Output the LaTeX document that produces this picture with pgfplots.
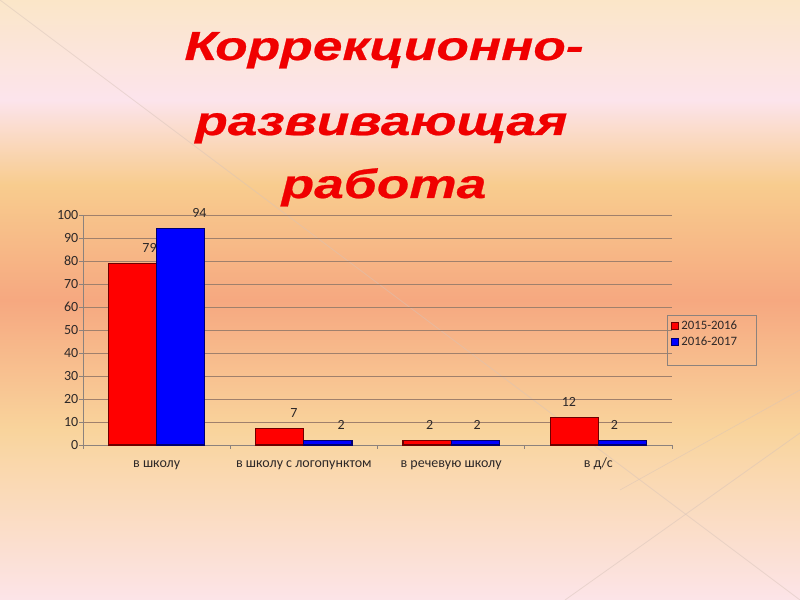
\documentclass[border=0pt]{standalone}
\usepackage{fontspec}
\setmainfont{Carlito}
\newfontfamily\titlefont[FakeStretch=1.31,FakeBold=0.6]{Liberation Sans}
\usepackage{pgfplots}
\usepackage{pgfplotstable}
\pgfplotsset{compat=1.18}

\definecolor{bg0}{HTML}{FBE6C8}
\definecolor{bg1}{HTML}{FCE4EC}
\definecolor{bg2}{HTML}{F8CC8E}
\definecolor{bg3}{HTML}{F6A880}
\definecolor{bg4}{HTML}{F9D49C}
\definecolor{bg5}{HTML}{FCE4E8}
\definecolor{titlered}{HTML}{F00000}
\definecolor{gridc}{RGB}{160,128,108}
\definecolor{axisgray}{RGB}{140,130,125}
\definecolor{darkred}{RGB}{110,0,0}
\definecolor{darkblue}{RGB}{0,0,110}
\definecolor{txt}{RGB}{45,40,40}
\definecolor{deco}{RGB}{215,195,185}

\pgfdeclareverticalshading{bgshade}{100bp}{color(0bp)=(bg5); color(25bp)=(bg5); color(39.17bp)=(bg4); color(50bp)=(bg3); color(59.58bp)=(bg2); color(66.67bp)=(bg1); color(75bp)=(bg0); color(100bp)=(bg0)}

\pgfplotstableread{
x y dx
0 79 12.75
1 7 10.5
2 2 2
3 12 -4
}\redtab
\pgfplotstableread{
x y dx
0 94 14
1 2 10
2 2 1.5
3 2 -6
}\bluetab

\begin{document}
\begin{tikzpicture}
\useasboundingbox (0,0) rectangle (600pt,450pt);
\shade[shading=bgshade] (0,0) rectangle (600pt,450pt);
\draw[deco, opacity=0.5, line width=0.6pt] (0,450pt) -- (600pt,0pt);
\draw[deco, opacity=0.5, line width=0.6pt] (423.75pt,0pt) -- (600pt,125.25pt);
\draw[deco, opacity=0.5, line width=0.5pt] (465pt,82.5pt) -- (600pt,157.5pt);

\node[anchor=base, text=titlered, font={\titlefont\bfseries\itshape\fontsize{30.5pt}{34pt}\selectfont}] at (288pt,405pt) {Коррекционно-};
\node[anchor=base, text=titlered, font={\titlefont\bfseries\itshape\fontsize{30.5pt}{34pt}\selectfont}] at (286pt,348.75pt) {развивающая};
\node[anchor=base, text=titlered, font={\titlefont\bfseries\itshape\fontsize{30.5pt}{34pt}\selectfont}] at (288pt,301.5pt) {работа};

\begin{axis}[
  at={(62.25pt,116.25pt)}, anchor=south west,
  scale only axis, width=441.75pt, height=172.5pt,
  xmin=-0.5, xmax=3.5, ymin=0, ymax=100,
  ytick={0,10,...,100},
  xtick={-0.5,0.5,1.5,2.5,3.5}, xticklabels={},
  extra x ticks={0,1,2,3},
  extra x tick labels={в школу, в школу с логопунктом, в речевую школу, в д/с},
  extra x tick style={major tick length=0pt},
  axis lines=left, axis line style={-, draw=axisgray, line width=0.6pt},
  ymajorgrids, grid style={gridc, line width=0.6pt},
  tick align=outside, major tick length=3pt,
  tick style={draw=axisgray, line width=0.6pt},
  /pgf/number format/assume math mode=true,
  tick label style={font=\fontsize{10.5pt}{12pt}\selectfont, text=txt},
  yticklabel style={xshift=3pt},
  xticklabel style={yshift=-6pt, text height=1.6ex, text depth=0.4ex},
  ybar, bar width=0.327,
  clip=false,
  legend style={at={(0.995,0.56)}, anchor=north west, draw=none, fill=none,
    font=\fontsize{9.6pt}{10pt}\selectfont, text=txt, inner sep=1pt,
    row sep=0.5pt},
  legend cell align=left,
  visualization depends on={\thisrow{dx} \as \dx},
  nodes near coords,
  nodes near coords style={font=\fontsize{10.5pt}{12pt}\selectfont, text=txt, inner sep=0pt, anchor=south, yshift=8pt},
  every node near coord/.append style={xshift=\dx pt},
]
\addplot[fill=red, draw=darkred, line width=0.8pt, bar shift=-0.1635,
  legend image code/.code={\draw[fill=red,draw=darkred,line width=0.6pt] (0pt,-2.6pt) rectangle (5.4pt,2.8pt);}]
  table[x=x,y=y] {\redtab};
\addplot[fill=blue, draw=darkblue, line width=0.8pt, bar shift=0.1635,
  legend image code/.code={\draw[fill=blue,draw=darkblue,line width=0.6pt] (0pt,-2.6pt) rectangle (5.4pt,2.8pt);}]
  table[x=x,y=y] {\bluetab};
\legend{2015-2016, 2016-2017}
\end{axis}
\draw[axisgray, line width=0.6pt] (500.25pt,176.25pt) rectangle (567pt,213.75pt);
\end{tikzpicture}
\end{document}
